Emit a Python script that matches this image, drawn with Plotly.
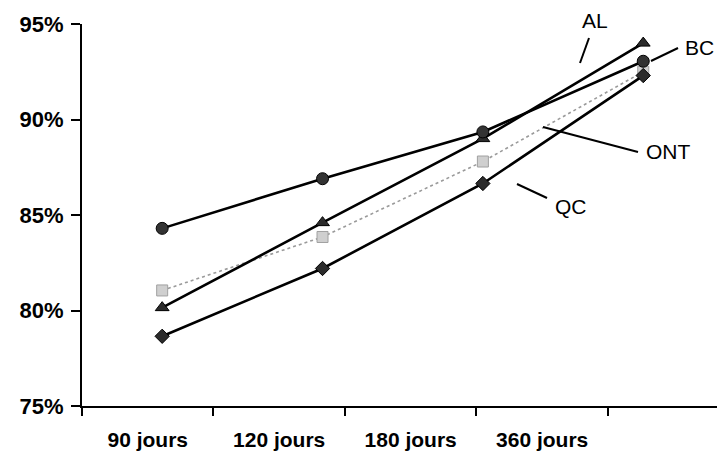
import plotly.graph_objects as go

# Delays and share of cases (%) per province
periods = ["90 jours", "120 jours", "180 jours", "360 jours"]
bc = [84.3, 86.9, 89.35, 93.05]
al = [80.15, 84.6, 89.0, 94.0]
ont = [81.05, 83.85, 87.8, 92.5]
qc = [78.65, 82.2, 86.65, 92.3]

y_ticks = [75, 80, 85, 90, 95]
y_labels = [f"{v}%" for v in y_ticks]

# plot area in pixels (used to place the series labels in paper space)
W, H = 717, 455
L, R, T, B = 82, 0, 24, 49
PW, PH = W - L - R, H - T - B


def px(x):
    return (x - L) / PW


def py(y):
    return (H - B - y) / PH


FONT = "Liberation Sans, Arial, sans-serif"

fig = go.Figure()

line_series = [
    ("QC", qc, "diamond", "#2b2b2b", 11),
    ("AL", al, "triangle-up", "#2b2b2b", 12),
    ("BC", bc, "circle", "#333333", 12),
]

fig.add_trace(go.Scatter(
    x=periods, y=ont, mode="lines+markers", name="ONT",
    line=dict(color="#9a9a9a", width=1.6, dash="dot"),
    marker=dict(symbol="square", size=11, color="#cfcfcf",
                line=dict(color="#a0a0a0", width=1)),
    showlegend=False,
))
for name, vals, sym, fill, ms in line_series:
    fig.add_trace(go.Scatter(
        x=periods, y=vals, mode="lines+markers", name=name,
        line=dict(color="black", width=2.6),
        marker=dict(symbol=sym, size=ms, color=fill,
                    line=dict(color="black", width=1)),
        showlegend=False,
    ))

# category axis carrying the period labels
fig.add_trace(go.Scatter(
    x=periods, y=bc, xaxis="x2", mode="lines", opacity=0,
    hoverinfo="skip", showlegend=False,
))

# series labels with leader lines
labels = [
    ("AL", 595, 20, (589, 38), (580, 63)),
    ("BC", 699, 48, (678, 48), (651, 61)),
    ("ONT", 668, 151, (638, 152), (543, 127)),
    ("QC", 571, 206, (547, 198), (517, 184)),
]
for text, lx, ly, p0, p1 in labels:
    fig.add_annotation(
        x=px(lx), y=py(ly), xref="paper", yref="paper", text=text,
        showarrow=False, xanchor="center", yanchor="middle",
        font=dict(family=FONT, size=21, color="black"),
    )
    fig.add_shape(
        type="line", xref="paper", yref="paper",
        x0=px(p0[0]), y0=py(p0[1]), x1=px(p1[0]), y1=py(p1[1]),
        line=dict(color="black", width=2),
    )

fig.update_layout(
    width=W, height=H,
    margin=dict(l=L, r=R, t=T, b=B),
    paper_bgcolor="white", plot_bgcolor="white",
    font=dict(family=FONT, color="black"),
    xaxis=dict(
        type="category", categoryorder="array", categoryarray=periods,
        range=[-0.5, 3.46], showticklabels=False, ticks="",
        showgrid=False, zeroline=False, showline=False,
    ),
    xaxis2=dict(
        type="category", categoryorder="array", categoryarray=periods,
        overlaying="x", side="bottom", range=[-0.5, 4.33],
        showgrid=False, zeroline=False,
        showline=True, linecolor="black", linewidth=1.5,
        ticks="outside", tickson="boundaries", ticklen=8,
        tickcolor="black", tickwidth=1.5,
        tickfont=dict(size=21, family=FONT, weight="bold"),
        ticklabelstandoff=14,
    ),
    yaxis=dict(
        range=[75, 95], tickmode="array", tickvals=y_ticks, ticktext=y_labels,
        showgrid=False, zeroline=False,
        showline=True, linecolor="black", linewidth=2,
        ticks="outside", ticklen=9, tickcolor="black", tickwidth=1.5,
        tickfont=dict(size=22, family=FONT, weight="bold"),
        ticklabelstandoff=3,
    ),
)

fig.write_html("out.html")
